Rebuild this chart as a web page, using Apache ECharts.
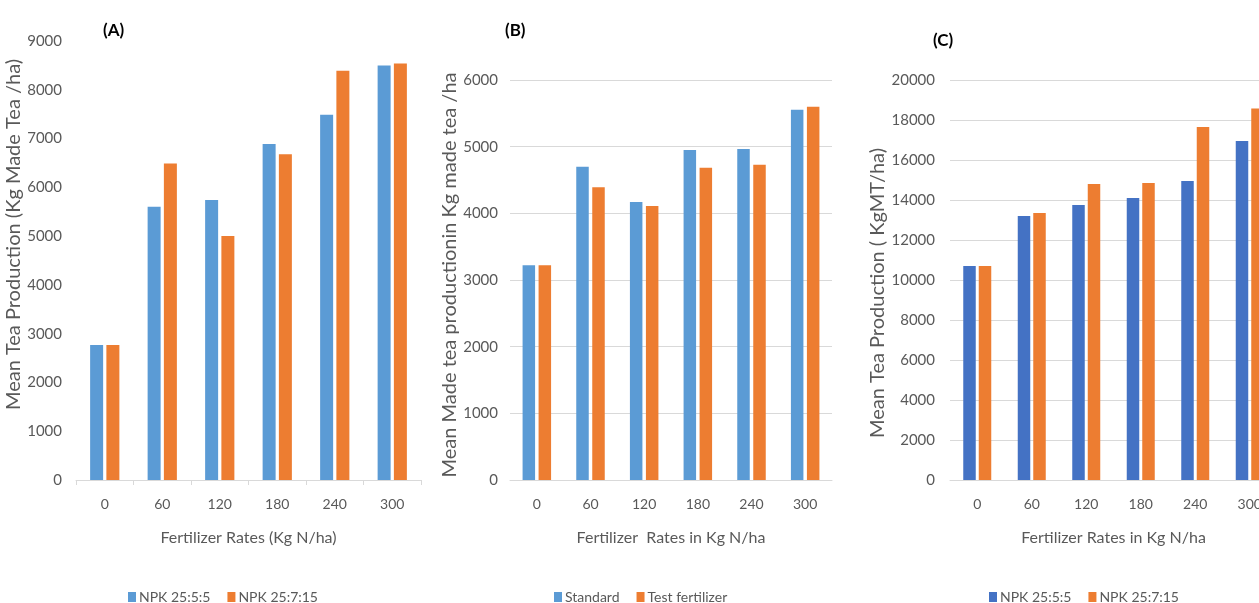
<!DOCTYPE html>
<html>
<head>
<meta charset="utf-8">
<script src="https://cdn.jsdelivr.net/npm/echarts@6/dist/echarts.min.js"></script>
<style>
html,body{margin:0;padding:0;background:#fff;}
#c{width:1259px;height:603px;}
</style>
</head>
<body>
<div id="c"></div>
<script>
// ---- data ----
const categories = ['0', '60', '120', '180', '240', '300'];

const aSeriesNames = ['NPK 25:5:5', 'NPK 25:7:15'];
const aNpk555  = [2770, 5600, 5740, 6890, 7490, 8500];
const aNpk2571 = [2770, 6490, 5000, 6680, 8390, 8540];
const aTicks = [0, 9000, 1000];

const bSeriesNames = ['Standard', 'Test fertilizer'];
const bStandard = [3220, 4700, 4170, 4950, 4965, 5555];
const bTest     = [3220, 4390, 4110, 4685, 4730, 5600];
const bTicks = [0, 6000, 1000];

const cSeriesNames = ['NPK 25:5:5', 'NPK 25:7:15'];
const cNpk555  = [10700, 13200, 13750, 14100, 14950, 16950];
const cNpk2571 = [10700, 13350, 14800, 14850, 17650, 18580];
const cTicks = [0, 20000, 2000];

// ---- styles ----
const FONT = 'Lato, "Open Sans", sans-serif';
const GREY = '#595959';
const LINE = '#d9d9d9';
const LBLUE = '#5B9BD5';
const DBLUE = '#4472C4';
const ORANGE = '#ED7D31';

function xAxis(idx, name, withTicks) {
  return {
    type: 'category', gridIndex: idx, data: categories,
    name: name, nameLocation: 'middle', nameGap: 50,
    nameTextStyle: {fontFamily: FONT, fontSize: 16, color: GREY},
    axisLine: {show: true, lineStyle: {color: LINE, width: 1}},
    axisTick: {show: withTicks, alignWithLabel: false, length: 5, lineStyle: {color: LINE}},
    axisLabel: {fontFamily: FONT, fontSize: 14, color: GREY, margin: 17},
    splitLine: {show: false}
  };
}
function yAxis(idx, ticks, name, gap, pad, grid, margin) {
  return {
    type: 'value', gridIndex: idx, min: ticks[0], max: ticks[1], interval: ticks[2],
    name: name, nameLocation: 'middle', nameGap: gap, nameRotate: 90,
    nameTextStyle: {fontFamily: FONT, fontSize: 20, color: GREY, padding: pad},
    axisLine: {show: false}, axisTick: {show: false},
    axisLabel: {fontFamily: FONT, fontSize: 15, color: GREY, margin: margin, formatter: v => String(v)},
    splitLine: {show: grid, lineStyle: {color: LINE, width: 1}}
  };
}
function bar(name, data, idx, color, w, gap) {
  return {
    type: 'bar', name: name, data: data, xAxisIndex: idx, yAxisIndex: idx,
    barWidth: w, barGap: gap, itemStyle: {color: color}, emphasis: {disabled: true}
  };
}
function legend(left, names, colors) {
  return {
    left: left, top: 585, orient: 'horizontal', icon: 'rect',
    itemWidth: 8, itemHeight: 10, itemGap: 17, selectedMode: false,
    textStyle: {fontFamily: FONT, fontSize: 14, color: GREY, padding: [0, 0, 0, -2]},
    data: names.map((n, i) => ({name: n, itemStyle: {color: colors[i]}}))
  };
}

const chart = echarts.init(document.getElementById('c'), null, {renderer: 'canvas'});
chart.setOption({
  animation: false,
  backgroundColor: '#fff',
  title: [
    {text: '(A)', left: 98, top: 17, textStyle: {fontFamily: FONT, fontSize: 17, fontWeight: 'bold', color: '#000'}},
    {text: '(B)', left: 500, top: 17, textStyle: {fontFamily: FONT, fontSize: 17, fontWeight: 'bold', color: '#000'}},
    {text: '(C)', left: 928, top: 27, textStyle: {fontFamily: FONT, fontSize: 17, fontWeight: 'bold', color: '#000'}}
  ],
  grid: [
    {left: 76, width: 345, top: 41, bottom: 123, containLabel: false, outerBoundsMode: 'none'},
    {left: 510, width: 322, top: 80, bottom: 123, containLabel: false, outerBoundsMode: 'none'},
    {left: 950, width: 327, top: 80, bottom: 123, containLabel: false, outerBoundsMode: 'none'}
  ],
  xAxis: [
    xAxis(0, 'Fertilizer Rates (Kg N/ha)', true),
    xAxis(1, 'Fertilizer  Rates in Kg N/ha', false),
    xAxis(2, 'Fertilizer Rates in Kg N/ha', false)
  ],
  yAxis: [
    yAxis(0, aTicks, 'Mean Tea Production (Kg Made Tea /ha)', 46, [0, 0, 0, 52], false, 14),
    yAxis(1, bTicks, 'Mean Made tea productionin Kg made tea /ha', 48, [0, 0, 0, 10], true, 12),
    yAxis(2, cTicks, 'Mean Tea Production ( KgMT/ha)', 57, [0, 26, 0, 0], true, 15)
  ],
  legend: [
    legend(123, aSeriesNames, [LBLUE, ORANGE]),
    legend(549, bSeriesNames, [LBLUE, ORANGE]),
    legend(984, cSeriesNames, [DBLUE, ORANGE])
  ],
  series: [
    bar(aSeriesNames[0], aNpk555, 0, LBLUE, 13, '25%'),
    bar(aSeriesNames[1], aNpk2571, 0, ORANGE, 13, '25%'),
    bar(bSeriesNames[0], bStandard, 1, LBLUE, 12.5, '28%'),
    bar(bSeriesNames[1], bTest, 1, ORANGE, 12.5, '28%'),
    bar(cSeriesNames[0], cNpk555, 2, DBLUE, 12.5, '24%'),
    bar(cSeriesNames[1], cNpk2571, 2, ORANGE, 12.5, '24%')
  ]
});
</script>
</body>
</html>
